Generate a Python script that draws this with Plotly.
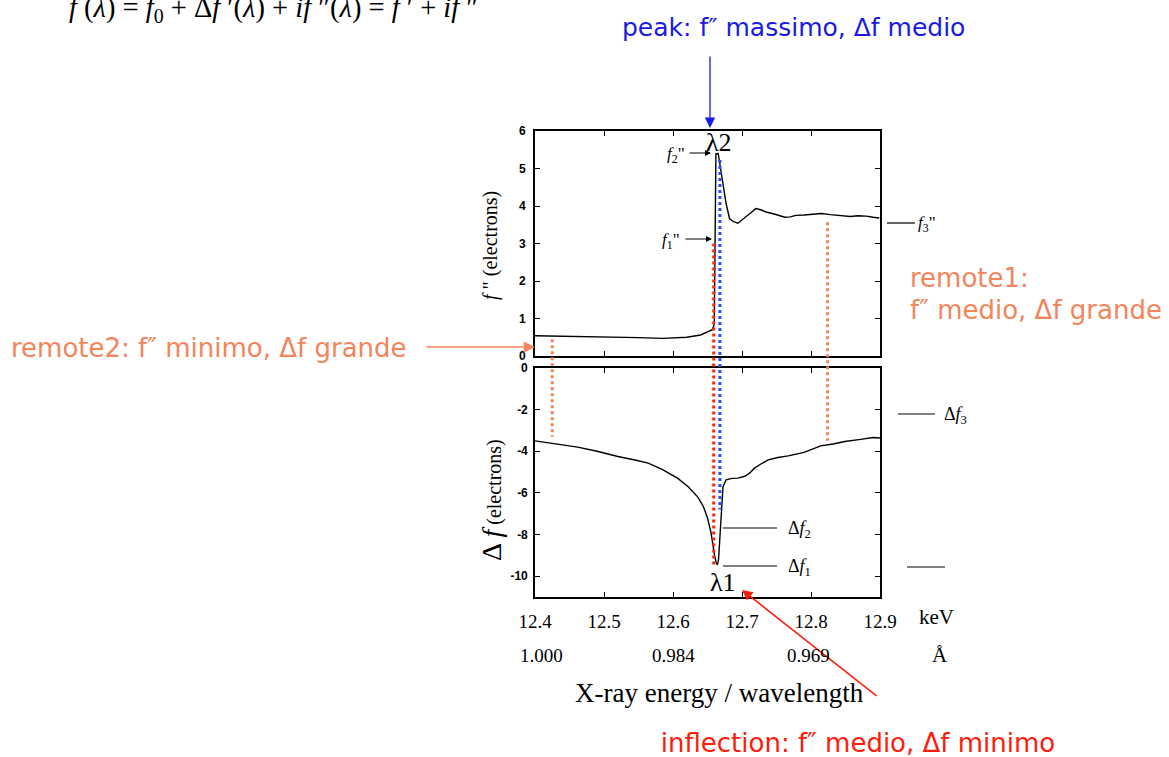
import plotly.graph_objects as go

W, H = 1169, 757

# ---------------- data ----------------
# f'' (top panel)
e_top = [12.400, 12.450, 12.500, 12.550, 12.585, 12.620, 12.640, 12.651, 12.657, 12.6598,
         12.6608, 12.6616, 12.6622, 12.6655, 12.669, 12.6725, 12.677, 12.682, 12.688, 12.694,
         12.700, 12.706, 12.713, 12.720, 12.727, 12.735, 12.748, 12.762, 12.770, 12.778,
         12.790, 12.803, 12.815, 12.828, 12.842, 12.857, 12.868, 12.880, 12.890, 12.899]
f2_top = [0.54, 0.53, 0.50, 0.49, 0.47, 0.50, 0.56, 0.66, 0.70, 0.85,
          3.00, 4.90, 5.39, 5.40, 5.00, 4.59, 4.06, 3.66, 3.58, 3.54,
          3.62, 3.72, 3.82, 3.93, 3.90, 3.84, 3.78, 3.70, 3.71, 3.75,
          3.76, 3.79, 3.80, 3.77, 3.75, 3.72, 3.74, 3.73, 3.70, 3.68]

# delta f' (bottom panel)
e_bot = [12.400, 12.430, 12.462, 12.490, 12.520, 12.545, 12.564, 12.585, 12.607, 12.622,
         12.636, 12.644, 12.650, 12.655, 12.658, 12.6605, 12.6627, 12.6645, 12.666, 12.6675,
         12.669, 12.6708, 12.6725, 12.677, 12.685, 12.694, 12.704, 12.711, 12.718, 12.728,
         12.738, 12.752, 12.767, 12.790, 12.814, 12.832, 12.849, 12.872, 12.890, 12.900]
df_bot = [-3.50, -3.63, -3.80, -4.00, -4.25, -4.42, -4.57, -4.88, -5.30, -5.70,
          -6.20, -6.65, -7.20, -7.90, -8.60, -9.05, -9.38, -9.45, -9.20, -8.40,
          -7.60, -6.50, -5.70, -5.37, -5.30, -5.29, -5.20, -5.05, -4.81, -4.60,
          -4.41, -4.30, -4.22, -4.05, -3.74, -3.65, -3.53, -3.43, -3.34, -3.36]

kev_ticks = [12.4, 12.5, 12.6, 12.7, 12.8, 12.9]
kev_text = ["12.4", "12.5", "12.6", "12.7", "12.8", "12.9"]
wl_text = ["1.000", "0.984", "0.969"]
wl_pos = [12.409, 12.600, 12.796]
top_yticks = [0, 1, 2, 3, 4, 5, 6]
bot_yticks = [0, -2, -4, -6, -8, -10]

# marked energies and values where the dotted markers start / end
marks = {
    # name: (energy, f'' start, delta f end, colour)
    "remote2": (12.425, 0.45, -3.30, "#F4845A"),
    "inflection": (12.659, 3.00, -9.45, "#F52A0A"),
    "peak": (12.668, 5.23, -6.80, "#2B4BFF"),
    "remote1": (12.824, 3.57, -3.50, "#F4845A"),
}

# ---------------- layout geometry ----------------
xdom = [535 / W, 880 / W]
top_dom = [1 - 356 / H, 1 - 131 / H]
bot_dom = [1 - 597 / H, 1 - 368 / H]
top_rng = [0, 6]
bot_rng = [-11, 0]


def py(v, dom, rng):
    return dom[0] + (v - rng[0]) / (rng[1] - rng[0]) * (dom[1] - dom[0])


def px(x):
    return x / W


def pyy(y):
    return 1 - y / H


fig = go.Figure()
fig.add_trace(go.Scatter(x=e_top, y=f2_top, mode="lines", xaxis="x", yaxis="y",
                         line=dict(color="black", width=1.4), hoverinfo="skip", showlegend=False))
fig.add_trace(go.Scatter(x=e_bot, y=df_bot, mode="lines", xaxis="x2", yaxis="y2",
                         line=dict(color="black", width=1.4), hoverinfo="skip", showlegend=False))

serif = "Liberation Serif"
sans = "DejaVu Sans"


# texts that touch the page edge: drawn on a hidden full-page overlay so they are clipped there
def edge_text(x, y, t, size, color, family, pos):
    fig.add_trace(go.Scatter(x=[x], y=[y], mode="text", text=[t], textposition=pos,
                             textfont=dict(family=family, size=size, color=color),
                             xaxis="x3", yaxis="y3", hoverinfo="skip", showlegend=False,
                             cliponaxis=True))


edge_text(69, 10, "<i>f</i> (<i>λ</i>) = <i>f</i><sub>0</sub> + Δ<i>f</i> ′(<i>λ</i>) + <i>if</i> ″(<i>λ</i>) = <i>f</i> ′ + <i>if</i> ″",
          28.5, "black", serif, "middle right")
edge_text(858, 745, "inflection: f″ medio, Δf minimo", 26, "#FF1A0A", sans, "middle center")
edge_text(910, 280, "remote1:", 26, "#F4845A", sans, "middle right")
edge_text(910, 312, "f″ medio, Δf grande", 26, "#F4845A", sans, "middle right")

shapes = []
for name, (e, ftop, dfend, col) in marks.items():
    shapes.append(dict(type="line", xref="x", yref="paper", x0=e, x1=e,
                       y0=py(ftop, top_dom, top_rng), y1=py(dfend, bot_dom, bot_rng),
                       line=dict(color=col, width=3, dash="dot"), layer="above"))

# short reference lines beside the plots
for (x0, x1, y) in [(887, 915, 223), (898, 935, 414), (723, 777, 528), (723, 777, 566), (907, 945, 567)]:
    shapes.append(dict(type="line", xref="paper", yref="paper", x0=px(x0), x1=px(x1),
                       y0=pyy(y), y1=pyy(y), line=dict(color="black", width=1.2)))

ann = []


def text(x, y, t, size, color="black", family=serif, xanchor="center", yanchor="middle", angle=0):
    ann.append(dict(x=px(x), y=pyy(y), xref="paper", yref="paper", text=t, showarrow=False,
                    font=dict(family=family, size=size, color=color), xanchor=xanchor,
                    yanchor=yanchor, textangle=angle))


def arrow(xt, yt, xs, ys, color, width=1.5, head=2, size=1.2):
    ann.append(dict(x=px(xt), y=pyy(yt), xref="paper", yref="paper", ax=xs - xt, ay=ys - yt,
                    axref="pixel", ayref="pixel", text="", showarrow=True, arrowcolor=color,
                    arrowwidth=width, arrowhead=head, arrowsize=size, xanchor="center",
                    yanchor="middle"))


# coloured commentary
text(793, 27, "peak: f″ massimo, Δf medio", 25, color="#1A1AE6", family=sans)
arrow(710, 128, 710, 55, "#1A1AE6", width=1.3, head=2, size=1.6)
arrow(742, 590, 878, 697, "#FF1A0A", width=1.5, head=2, size=1.4)
text(9, 348, "remote2: f″ minimo, Δf grande", 26, color="#F4845A", family=sans, xanchor="left")
arrow(535, 347, 425, 347, "#F4845A", width=1.5, head=2, size=1.5)

# plot labels
text(719, 142, "λ2", 26)
text(723, 582, "λ1", 26)
text(676, 155, "<i>f</i><sub>2</sub>\"", 17)
arrow(711, 153, 688, 153, "black", width=1.2, head=2, size=1.0)
text(671, 241, "<i>f</i><sub>1</sub>\"", 17)
arrow(712, 239, 684, 239, "black", width=1.2, head=2, size=1.0)
text(916, 224, "<i>f</i><sub>3</sub>\"", 17, xanchor="left")
text(942, 415, "Δ<i>f</i><sub>3</sub>", 18, xanchor="left")
text(786, 529, "Δ<i>f</i><sub>2</sub>", 18, xanchor="left")
text(786, 567, "Δ<i>f</i><sub>1</sub>", 18, xanchor="left")

# axis titles
text(490, 245, "<i>f</i> \" (electrons)", 20, angle=-90)
text(491, 500, "<span style='font-size:28px'>Δ <i>f</i></span> (electrons)", 20, angle=-90)
text(936, 617, "keV", 21)
text(940, 655, "Å", 21)
text(719, 693, "X-ray energy / wavelength", 27)

# wavelength tick row
for t, e in zip(wl_text, wl_pos):
    ann.append(dict(x=e, y=pyy(655), xref="x2", yref="paper", text=t,
                    showarrow=False, font=dict(family=serif, size=19, color="black"),
                    xanchor="center", yanchor="middle"))

axis_common = dict(showline=True, mirror="ticks", linecolor="black", linewidth=1.6,
                   ticks="inside", ticklen=5, tickwidth=1.2, tickcolor="black",
                   showgrid=False, zeroline=False, automargin=False)
ytickfont = dict(family="Liberation Sans", size=12, color="black")

fig.update_layout(
    width=W, height=H, margin=dict(l=0, r=0, t=0, b=0, pad=0), autosize=False,
    paper_bgcolor="white", plot_bgcolor="rgba(0,0,0,0)", showlegend=False,
    xaxis=dict(domain=xdom, range=[12.4, 12.9], anchor="y", tickvals=kev_ticks,
               showticklabels=False, **axis_common),
    yaxis=dict(domain=top_dom, range=top_rng, anchor="x", tickvals=top_yticks,
               ticktext=["<b>%d</b>" % v for v in top_yticks],
               tickfont=ytickfont, ticklabelstandoff=5, **axis_common),
    xaxis2=dict(domain=xdom, range=[12.4, 12.9], anchor="y2", tickvals=kev_ticks, ticktext=kev_text,
                tickfont=dict(family=serif, size=19, color="black"), ticklabelstandoff=6,
                **axis_common),
    yaxis2=dict(domain=bot_dom, range=bot_rng, anchor="x2", tickvals=bot_yticks,
                ticktext=["<b>%d</b>" % v for v in bot_yticks],
                tickfont=ytickfont, ticklabelstandoff=3, **axis_common),
    xaxis3=dict(domain=[0, 1], range=[0, W], anchor="y3", visible=False, fixedrange=True),
    yaxis3=dict(domain=[0, 1], range=[H, 0], anchor="x3", visible=False, fixedrange=True),
    shapes=shapes, annotations=ann,
)

fig.write_html("out.html")
